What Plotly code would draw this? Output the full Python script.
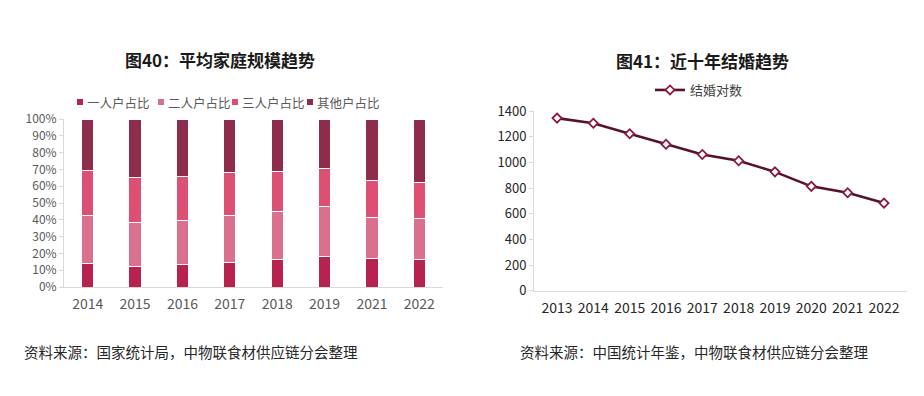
import plotly.graph_objects as go

# ---- data: left chart (household size shares, %) ----
years_bar = ["2014", "2015", "2016", "2017", "2018", "2019", "2021", "2022"]
one_person = [14.1, 12.5, 13.5, 14.5, 16.1, 17.9, 16.7, 16.1]
two_person = [28.3, 25.7, 26.3, 27.9, 28.7, 30.1, 24.7, 24.5]
three_person = [26.9, 26.7, 26.1, 25.5, 23.7, 22.3, 21.7, 21.4]
other_person = [30.7, 35.1, 34.1, 32.1, 31.5, 29.7, 36.9, 38.0]
bar_names = ["一人户占比", "二人户占比", "三人户占比", "其他户占比"]
pct_ticks = list(range(0, 101, 10))
pct_labels = [f"{v}%" for v in pct_ticks]

# ---- data: right chart (marriages, 10k couples) ----
years_line = ["2013", "2014", "2015", "2016", "2017", "2018", "2019", "2020", "2021", "2022"]
marriages = [1346.9, 1306.7, 1224.7, 1142.8, 1063.1, 1013.9, 927.3, 814.3, 764.3, 683.5]
line_name = "结婚对数"

FONT = "Noto Sans CJK SC, Noto Sans, sans-serif"
bar_colors = ["#B8224F", "#D8708E", "#DE4F74", "#8E2D4B"]

# page has an 8px body margin: figure is sized so the page fits the 924x396 window
OFF = 8
W, H = 924 - 2 * OFF, 396 - 2 * OFF


def px(x):
    return (x - OFF) / W


def py(y):
    return 1 - (y - OFF) / H


fig = go.Figure()
for name, vals, col in zip(bar_names, [one_person, two_person, three_person, other_person], bar_colors):
    fig.add_trace(go.Bar(
        x=years_bar, y=vals, name=name, marker=dict(color=col, line=dict(color="white", width=1)),
        xaxis="x", yaxis="y", showlegend=False,
    ))

fig.add_trace(go.Scatter(
    x=years_line, y=marriages, name=line_name, mode="lines+markers",
    line=dict(color="#561326", width=2.6),
    marker=dict(symbol="diamond", size=7, color="white", line=dict(color="#8B1A3F", width=1.8)),
    xaxis="x2", yaxis="y2", showlegend=True,
))

axis_grey = "#D9D9D9"
fig.update_layout(
    width=W, height=H,
    margin=dict(l=0, r=0, t=0, b=0, pad=0, autoexpand=False),
    paper_bgcolor="white", plot_bgcolor="white",
    font=dict(family=FONT, size=13, color="#404040"),
    barmode="stack", bargap=0.74,
    xaxis=dict(domain=[px(64), px(443)], anchor="y", type="category",
               showline=True, linecolor=axis_grey, linewidth=1, ticks="", ticklabelstandoff=4,
               tickfont=dict(size=14, color="#595959"), showgrid=False, automargin=False),
    yaxis=dict(domain=[py(287), py(119)], anchor="x", range=[0, 100],
               tickmode="array", tickvals=pct_ticks, ticktext=pct_labels, showgrid=False,
               zeroline=False, automargin=False,
               showline=True, linecolor=axis_grey, linewidth=1, ticks="outside",
               ticklen=4, tickcolor=axis_grey, tickfont=dict(size=12, color="#595959")),
    xaxis2=dict(domain=[px(534), px(907)], anchor="y2", type="category",
                showline=True, linecolor=axis_grey, linewidth=1, ticks="", ticklabelstandoff=4,
                tickfont=dict(size=14, color="#262626"), showgrid=False, automargin=False),
    yaxis2=dict(domain=[py(290.7), py(111.3)], anchor="x2", range=[0, 1400],
                dtick=200, showgrid=False, zeroline=False, automargin=False,
                showline=True, linecolor=axis_grey, linewidth=1, ticks="outside",
                ticklen=4, tickcolor=axis_grey, tickfont=dict(size=13, color="#262626")),
    legend=dict(orientation="h", x=px(650), xanchor="left", y=py(90), yanchor="middle",
                font=dict(size=13, color="#404040"), itemwidth=30, bgcolor="rgba(0,0,0,0)"),
    showlegend=True,
)

# legend for the stacked bars (swatch + label), built from the series lists
legend_x = [80, 161, 235, 310]
ly = py(102)
for name, col, lx in zip(bar_names, bar_colors, legend_x):
    fig.add_shape(type="rect", xref="paper", yref="paper",
                  x0=px(lx - 3), x1=px(lx + 3), y0=ly - 3 / H, y1=ly + 3 / H,
                  fillcolor=col, line=dict(width=0))
    fig.add_annotation(text=name, x=px(lx + 5), y=ly, xref="paper", yref="paper",
                       xanchor="left", yanchor="middle", showarrow=False,
                       font=dict(size=12.5, color="#595959", family=FONT))

fig.add_annotation(text="<b>图40：平均家庭规模趋势</b>", x=px(220), y=py(60),
                   xref="paper", yref="paper", xanchor="center", yanchor="middle", showarrow=False,
                   font=dict(size=17, color="#1A1A1A", family=FONT))
fig.add_annotation(text="<b>图41：近十年结婚趋势</b>", x=px(702), y=py(61),
                   xref="paper", yref="paper", xanchor="center", yanchor="middle", showarrow=False,
                   font=dict(size=17, color="#1A1A1A", family=FONT))
fig.add_annotation(text="资料来源：国家统计局，中物联食材供应链分会整理", x=px(22), y=py(351),
                   xref="paper", yref="paper", xanchor="left", yanchor="middle", showarrow=False,
                   font=dict(size=14.5, color="#262626", family=FONT))
fig.add_annotation(text="资料来源：中国统计年鉴，中物联食材供应链分会整理", x=px(518), y=py(351),
                   xref="paper", yref="paper", xanchor="left", yanchor="middle", showarrow=False,
                   font=dict(size=14.5, color="#262626", family=FONT))

fig.write_html("out.html")
